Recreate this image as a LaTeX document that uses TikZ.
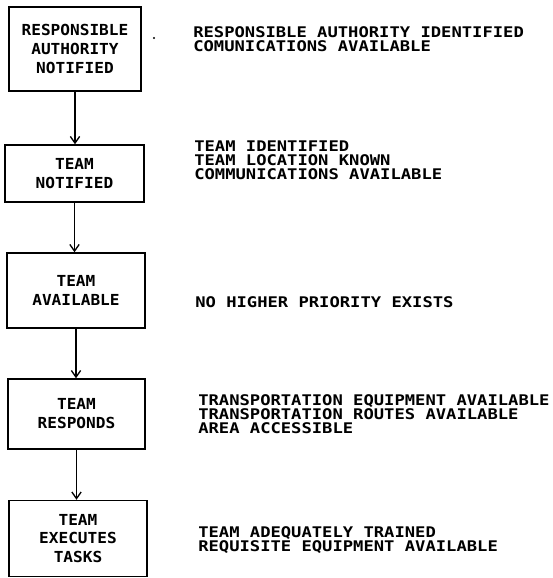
\documentclass[tikz,border=0pt]{standalone}
\usepackage{fontspec}
\newfontfamily\plotfont[FakeStretch=1.17]{DejaVu Sans Mono Bold}
\newfontfamily\boxfont[FakeStretch=1.06]{DejaVu Sans Mono Bold}
\usetikzlibrary{arrows.meta}
\begin{document}
\begin{tikzpicture}[x=0.75pt,y=-0.75pt,
  stagebox/.style={draw, line width=1.1pt, inner sep=0pt, align=center,
    font=\boxfont\fontsize{11.4}{14.2}\selectfont},
  condtext/.style={anchor=west, inner sep=0pt, align=left,
    font=\plotfont\fontsize{11}{10.6}\selectfont},
  flow/.style={line width=1.1pt, -{Straight Barb[length=5pt,width=7pt,line width=1pt]}}]
\useasboundingbox (0,0) rectangle (553,578);
\node[stagebox, minimum width=132*0.75pt, minimum height=84*0.75pt] (s1) at (75,49) {RESPONSIBLE\\AUTHORITY\\NOTIFIED};
\node[stagebox, minimum width=139*0.75pt, minimum height=57*0.75pt] (s2) at (74.5,173.5) {TEAM\\NOTIFIED};
\node[stagebox, minimum width=138*0.75pt, minimum height=75*0.75pt] (s3) at (76,290.5) {TEAM\\AVAILABLE};
\node[stagebox, minimum width=137*0.75pt, minimum height=70*0.75pt] (s4) at (76.5,414) {TEAM\\RESPONDS};
\node[stagebox, minimum width=138*0.75pt, minimum height=76*0.75pt] (s5) at (78,538.5) {TEAM\\EXECUTES\\TASKS};
\draw[flow] (s1.south) -- (s1.south |- s2.north);
\draw[flow] (s2.south) -- (s2.south |- s3.north);
\draw[flow] (s3.south) -- (s3.south |- s4.north);
\draw[flow] (s4.south) -- (s4.south |- s5.north);
\node[condtext] (c1) at (193,39.5) {RESPONSIBLE AUTHORITY IDENTIFIED\\COMUNICATIONS AVAILABLE};
\node[condtext] (c2) at (194,160) {TEAM IDENTIFIED\\TEAM LOCATION KNOWN\\COMMUNICATIONS AVAILABLE};
\node[condtext] (c3) at (195,302) {NO HIGHER PRIORITY EXISTS};
\node[condtext] (c4) at (198,414) {TRANSPORTATION EQUIPMENT AVAILABLE\\TRANSPORTATION ROUTES AVAILABLE\\AREA ACCESSIBLE};
\node[condtext] (c5) at (198,540) {TEAM ADEQUATELY TRAINED\\REQUISITE EQUIPMENT AVAILABLE};
\fill (154,38) circle (1.2);
\end{tikzpicture}
\end{document}
